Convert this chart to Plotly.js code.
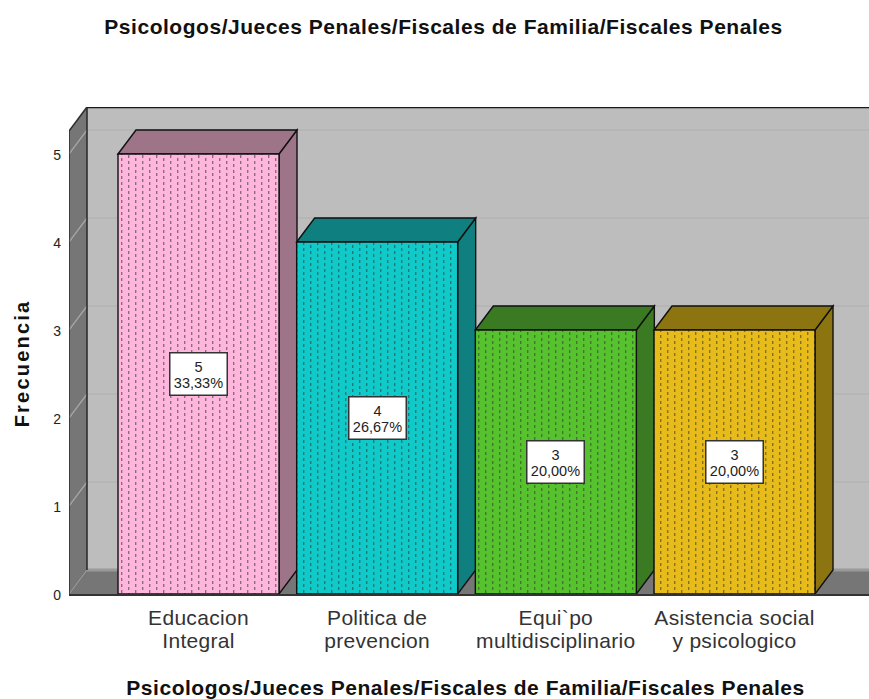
<!DOCTYPE html>
<html><head><meta charset="utf-8">
<script src="https://cdn.plot.ly/plotly-3.0.1.min.js"></script>
<style>
html,body{margin:0;padding:0;background:#fff}
.xtick text{letter-spacing:.3px}
.gtitle,.xtitle{letter-spacing:.53px}
.ytitle{letter-spacing:2.2px}
</style></head><body><div id="chart" style="width:869px;height:699px"></div>
<script>
const categories=["Educacion<br>Integral","Politica de<br>prevencion","Equi`po<br>multidisciplinario","Asistencia social<br>y psicologico"];
const counts=[5,4,3,3];
const percents=["33,33%","26,67%","20,00%","20,00%"];
const frontColors=["#ffb6dc","#10c9c9","#56c22e","#e6bb1a"];
const sideColors=["#9e7488","#0f7f7f","#3a7a22","#8c7510"];
const yTicks=[0,1,2,3,4,5];
const chartTitle="Psicologos/Jueces Penales/Fiscales de Familia/Fiscales Penales";
const yTitle="Frecuencia";

const W=869,H=699,mL=69,mR=0,mT=107,mB=105;
const pxX=178.67,pxY=88;
const dx=18/pxX,dy=24/pxY;
const xMin=-(198.5-mL)/pxX, xMax=xMin+(W-mL-mR)/pxX;
const yMax=(H-mT-mB)/pxY;
const barW=161/pxX;
const idx=categories.map((_,i)=>i);

const poly=(pts,fill,line,w,layer)=>({type:'path',xref:'x',yref:'y',layer:layer||'below',
  path:'M'+pts.map(p=>p[0]+' '+p[1]).join('L')+'Z',fillcolor:fill,line:{color:line||fill,width:w===undefined?1:w}});
const seg=(a,b,c,w)=>({type:'line',xref:'x',yref:'y',layer:'below',x0:a[0],y0:a[1],x1:b[0],y1:b[1],line:{color:c,width:w}});

const shapes=[];
const bx=xMin+dx;
shapes.push(poly([[bx,dy],[xMax,dy],[xMax,yMax],[bx,yMax]],'#bdbdbd','#bdbdbd',0));
shapes.push(poly([[xMin,0],[bx,dy],[xMax,dy],[xMax,0]],'#767676','#767676',0));
shapes.push(poly([[xMin,0],[bx,dy],[bx,yMax],[xMin,yMax-dy]],'#767676','#767676',0));
yTicks.forEach(t=>{
  const isZero=t===0;
  shapes.push(seg([bx,t+dy],[xMax,t+dy],isZero?'#999999':'#b0b0b0',isZero?3:1.2));
  if(!isZero)shapes.push(seg([xMin,t],[bx,t+dy],'#a6a6a6',1.3));
});
shapes.push(seg([xMin,0],[bx,dy],'#9a9a9a',1));
shapes.push(seg([bx,dy],[bx,yMax],'#2e2e2e',1.6));
shapes.push(seg([xMin,0],[xMin,yMax-dy],'#2e2e2e',1.6));
shapes.push(seg([xMin,yMax-dy],[bx,yMax],'#2e2e2e',1.6));
shapes.push(seg([bx,yMax-.005],[xMax,yMax-.005],'#1a1a1a',1.6));
idx.forEach(i=>{
  const l=i-barW/2,r=i+barW/2,v=counts[i];
  shapes.push(poly([[r,0],[r+dx,dy],[r+dx,v+dy],[r,v]],sideColors[i],'#111111',1.4));
  shapes.push(poly([[l,v],[l+dx,v+dy],[r+dx,v+dy],[r,v]],sideColors[i],'#111111',1.4));
});

const annotations=idx.map(i=>({x:i,y:counts[i]/2,xref:'x',yref:'y',
  text:counts[i]+'<br>'+percents[i],showarrow:false,align:'center',
  font:{family:'Liberation Sans, Arial, sans-serif',size:14.5,color:'#222222'},
  bgcolor:'#ffffff',bordercolor:'#333333',borderwidth:1.5,borderpad:0,width:56,height:41,valign:'middle'}));

const trace={type:'bar',x:idx,y:counts,width:barW,cliponaxis:false,
  marker:{color:frontColors,line:{color:'#111111',width:1.4},
    pattern:{shape:'.',size:6,solidity:0.2,fgcolor:'#444444',bgcolor:frontColors,fillmode:'replace'}},
  hoverinfo:'skip'};

const layout={width:W,height:H,autosize:false,showlegend:false,
  paper_bgcolor:'#ffffff',plot_bgcolor:'#ffffff',
  margin:{l:mL,r:mR,t:mT,b:mB,pad:0},
  font:{family:'Liberation Sans, Arial, sans-serif',color:'#222222'},
  title:{text:chartTitle,font:{size:21,weight:'bold',color:'#111111'},x:443.5/W,xanchor:'center',y:1-27/H,yanchor:'middle'},
  xaxis:{type:'linear',range:[xMin,xMax],tickmode:'array',tickvals:idx,ticktext:categories,
    showgrid:false,zeroline:false,showline:true,linecolor:'#333333',linewidth:2,ticks:'',
    tickfont:{size:21,color:'#333333'},ticklabelstandoff:4,
    title:{text:chartTitle,font:{size:21,weight:'bold',color:'#111111'},standoff:14}},
  yaxis:{range:[0,yMax],tickmode:'array',tickvals:yTicks,ticktext:yTicks.map(String),
    showgrid:false,zeroline:false,showline:false,ticks:'',
    tickfont:{size:14,color:'#222222'},ticklabelstandoff:7,
    title:{text:yTitle,font:{size:20,weight:'bold',color:'#111111'},standoff:20}},
  shapes,annotations,bargap:0};

Plotly.newPlot('chart',[trace],layout,{displayModeBar:false,staticPlot:true}).then(gd=>{
  const NS='http://www.w3.org/2000/svg';
  gd.querySelectorAll('.bars .point path').forEach((bar,i)=>{
    const m=(bar.style.fill||bar.getAttribute('fill')||'').match(/#([^"')]+)/);
    const p=m&&gd.querySelector('pattern[id="'+m[1]+'"]');
    if(!p)return;
    p.setAttribute('width',14);p.setAttribute('height',6);
    p.removeAttribute('viewBox');
    while(p.firstChild)p.removeChild(p.firstChild);
    const bg=document.createElementNS(NS,'rect');
    bg.setAttribute('width',14);bg.setAttribute('height',6);bg.setAttribute('fill',frontColors[i]);p.appendChild(bg);
    [[3,0],[10,3]].forEach(c=>{
      const r=document.createElementNS(NS,'rect');
      r.setAttribute('x',c[0]);r.setAttribute('y',c[1]);r.setAttribute('width',1.4);r.setAttribute('height',3);
      r.setAttribute('fill','#3c3c3c');r.setAttribute('fill-opacity','.6');p.appendChild(r);
    });
  });
  gd.querySelectorAll('.xtick tspan.line').forEach(t=>{if(parseFloat(t.getAttribute('dy'))>0)t.setAttribute('dy','1.1em');});
  gd.querySelectorAll('.annotation-text tspan.line').forEach(t=>{if(parseFloat(t.getAttribute('dy'))>0)t.setAttribute('dy','1.1em');});
  gd.querySelectorAll('.annotation-text').forEach(t=>{
    const cur=t.getAttribute('transform')||'';
    t.setAttribute('transform',cur+' translate(0,2)');
  });
  gd.querySelectorAll('.ytick text').forEach(t=>{t.setAttribute('y',parseFloat(t.getAttribute('y')||0)+1.5);});
  const xt=gd.querySelector('.xtitle');
  if(xt){xt.setAttribute('x',465.5);xt.setAttribute('y',695);}
  const yt=gd.querySelector('.ytitle');
  if(yt){const nx=parseFloat(yt.getAttribute('x'))+2;yt.setAttribute('x',nx);yt.setAttribute('y',363.5);yt.setAttribute('transform','rotate(-90,'+nx+',363.5)');}
});
</script></body></html>
